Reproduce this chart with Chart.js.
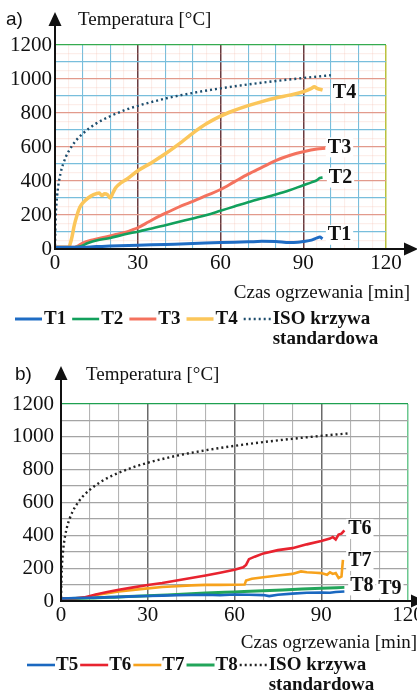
<!DOCTYPE html>
<html>
<head>
<meta charset="utf-8">
<script src="https://cdn.jsdelivr.net/npm/chart.js@4.4.1/dist/chart.umd.min.js"></script>
<style>
  html, body { margin: 0; padding: 0; background: #fff; }
  canvas { display: block; }
</style>
</head>
<body>
<canvas id="chartA" width="417" height="345"></canvas>
<canvas id="chartB" width="417" height="350"></canvas>
<script>
const SERIF = '"Liberation Serif", "Times New Roman", serif';
const SANS = '"Liberation Sans", Arial, sans-serif';

const X_LABELS = [0, 30, 60, 90, 120];
const Y_LABELS = [0, 200, 400, 600, 800, 1000, 1200];

// ISO standard curve, same in both panels [min, °C]
const ISO = [[0, 20], [0.25, 185], [0.5, 261], [1, 349], [2, 445], [3, 502], [4, 544], [5, 576], [7.5, 636],
  [10, 678], [15, 739], [20, 781], [25, 815], [30, 842], [40, 885], [50, 918], [60, 945], [70, 968],
  [80, 988], [90, 1006], [100, 1022]];

// panel a)
const T1 = [[0, 10], [8, 10], [15, 14], [20, 17], [30, 22], [40, 27], [50, 32], [60, 38], [70, 42], [75, 45],
  [80, 44], [85, 38], [88, 40], [90, 44], [93, 52], [95, 65], [96, 70], [97, 60]];
const T2 = [[0, 10], [7, 10], [9, 15], [12, 35], [15, 50], [20, 65], [25, 85], [30, 102], [35, 120], [40, 140],
  [45, 160], [50, 180], [55, 200], [60, 225], [65, 250], [70, 275], [75, 298], [80, 320], [85, 345],
  [90, 375], [93, 392], [95, 405], [96, 418], [97, 420]];
const T3 = [[0, 10], [7, 10], [8, 15], [10, 35], [14, 55], [18, 70], [22, 85], [26, 100], [28, 112], [30, 125],
  [34, 160], [38, 195], [42, 225], [46, 255], [50, 280], [55, 315], [60, 350], [65, 395], [70, 440],
  [75, 480], [80, 520], [85, 550], [90, 572], [95, 588], [98, 592]];
const T4 = [[0, 10], [3, 10], [5, 12], [6, 60], [7, 140], [8, 200], [9, 245], [10, 270], [12, 300], [14, 320],
  [16, 330], [17, 315], [18, 325], [19, 320], [20, 300], [21, 330], [22, 360], [24, 390], [26, 410],
  [30, 460], [35, 508], [40, 560], [45, 618], [50, 682], [55, 738], [60, 782], [65, 815], [70, 843],
  [75, 867], [80, 888], [85, 905], [90, 925], [93, 945], [94, 955], [95, 945], [97, 935]];

// panel b)
const T5 = [[0, 15], [5, 18], [10, 20], [15, 22], [20, 25], [25, 28], [30, 30], [35, 33], [40, 35], [45, 37],
  [50, 38], [55, 35], [60, 40], [65, 38], [70, 36], [72, 30], [75, 38], [80, 45], [85, 50], [90, 52],
  [93, 50], [95, 55], [98, 58]];
const T6 = [[0, 15], [5, 17], [8, 22], [12, 40], [16, 55], [20, 68], [25, 83], [30, 98], [35, 110], [40, 125],
  [45, 140], [50, 155], [55, 172], [60, 190], [63, 205], [64, 220], [65, 255], [67, 270], [70, 290],
  [75, 310], [80, 322], [85, 345], [90, 365], [93, 380], [94, 390], [95, 375], [96, 405], [97, 410], [98, 430]];
const T7 = [[11.5, 35], [15, 45], [20, 58], [25, 68], [30, 77], [35, 85], [40, 90], [45, 95], [50, 98], [55, 98],
  [60, 99], [63.5, 100], [64, 125], [66, 135], [70, 145], [75, 155], [80, 165], [83, 180], [85, 175],
  [88, 172], [90, 170], [92, 160], [93, 175], [94, 165], [95, 170], [96, 140], [97, 150], [97.5, 250]];
const T8 = [[0, 15], [10, 18], [20, 25], [30, 32], [40, 40], [50, 48], [60, 55], [70, 62], [80, 70], [90, 78], [98, 83]];

const pts = arr => arr.map(([x, y]) => ({ x, y }));

function line(label, data, color, width, extra) {
  return Object.assign({
    label, data: pts(data), borderColor: color, backgroundColor: color, borderWidth: width,
    pointRadius: 0, fill: false, cubicInterpolationMode: 'monotone'
  }, extra || {});
}

function drawArrows(ctx, area, yTip, xTip) {
  ctx.save();
  ctx.strokeStyle = '#111';
  ctx.fillStyle = '#111';
  ctx.lineWidth = 2;
  ctx.beginPath();
  ctx.moveTo(area.left, area.bottom + 1);
  ctx.lineTo(area.left, yTip + 10);
  ctx.moveTo(area.left - 1, area.bottom);
  ctx.lineTo(xTip - 10, area.bottom);
  ctx.stroke();
  ctx.beginPath();
  ctx.moveTo(area.left, yTip);
  ctx.lineTo(area.left - 6.5, yTip + 14);
  ctx.lineTo(area.left + 6.5, yTip + 14);
  ctx.closePath();
  ctx.fill();
  ctx.beginPath();
  ctx.moveTo(xTip, area.bottom);
  ctx.lineTo(xTip - 14, area.bottom - 6.5);
  ctx.lineTo(xTip - 14, area.bottom + 6.5);
  ctx.closePath();
  ctx.fill();
  ctx.restore();
}

function drawEndLabels(chart, specs) {
  const ctx = chart.ctx, xs = chart.scales.x, ys = chart.scales.y;
  ctx.save();
  ctx.font = 'bold 20px ' + SERIF;
  ctx.textBaseline = 'middle';
  specs.forEach(s => {
    const pts = chart.data.datasets[s.ds].data;
    const last = pts[pts.length - 1];
    const x = xs.getPixelForValue(100) + s.dx;
    const y = ys.getPixelForValue(last.y) + s.dy;
    const w = ctx.measureText(s.text).width;
    ctx.fillStyle = '#fff';
    ctx.fillRect(x - 2, y - 10, w + 4, 20);
    ctx.fillStyle = '#111';
    ctx.fillText(s.text, x, y);
  });
  ctx.restore();
}

function drawLegend(chart, items, x0, y, lineLen, gapIn, gapOut) {
  const ctx = chart.ctx;
  ctx.save();
  ctx.font = 'bold 19px ' + SERIF;
  ctx.textBaseline = 'middle';
  let x = x0;
  items.forEach(it => {
    const ds = chart.data.datasets[it.ds];
    ctx.strokeStyle = ds.borderColor;
    ctx.lineWidth = ds.borderWidth;
    ctx.setLineDash(ds.borderDash || []);
    ctx.beginPath();
    ctx.moveTo(x, y);
    ctx.lineTo(x + lineLen, y);
    ctx.stroke();
    ctx.setLineDash([]);
    x += lineLen + gapIn;
    ctx.fillStyle = '#111';
    ctx.fillText(it.text, x, y);
    if (it.second) ctx.fillText(it.second, x, y + 20);
    x += ctx.measureText(it.text).width + gapOut;
  });
  ctx.restore();
}

function drawTitles(chart, letter, letterX, titleX, cy, xTitleRight, xTitleY) {
  const ctx = chart.ctx;
  ctx.save();
  ctx.fillStyle = '#111';
  ctx.textBaseline = 'middle';
  ctx.font = '19px ' + SANS;
  ctx.fillText(letter, letterX, cy);
  ctx.font = '19px ' + SERIF;
  ctx.fillText('Temperatura [°C]', titleX, cy);
  ctx.textAlign = 'right';
  ctx.fillText('Czas ogrzewania [min]', xTitleRight, xTitleY);
  ctx.restore();
}

function scales(xStep, yStep, xColor, yColor, yWidth, tickPadY) {
  return {
    x: {
      type: 'linear', min: 0, max: 120,
      afterFit: s => { s.height = 30; s.paddingLeft = 0; s.paddingRight = 0; },
      ticks: {
        stepSize: xStep, autoSkip: false, maxRotation: 0, padding: 2, color: '#111',
        font: { family: SERIF, size: 21 },
        callback: v => X_LABELS.includes(v) ? String(v) : ''
      },
      grid: { drawTicks: false, lineWidth: c => (c.tick && c.tick.value % 30 === 0 ? 1.5 : 1.1), color: c => xColor(c.tick.value) },
      border: { display: false }
    },
    y: {
      type: 'linear', min: 0, max: 1200,
      afterFit: s => { s.width = yWidth; s.paddingTop = 0; s.paddingBottom = 0; },
      ticks: {
        stepSize: yStep, autoSkip: false, padding: tickPadY, color: '#111',
        font: { family: SERIF, size: 21 },
        callback: v => Y_LABELS.includes(v) ? String(v) : ''
      },
      grid: { drawTicks: false, lineWidth: 1.2, color: c => yColor(c.tick.value) },
      border: { display: false }
    }
  };
}

// ---------- panel a ----------
new Chart(document.getElementById('chartA'), {
  type: 'line',
  data: {
    datasets: [
      line('T1', T1, '#1f6cc4', 3),
      line('T2', T2, '#12a05c', 2.6),
      line('T3', T3, '#f4725e', 3),
      line('T4', T4, '#fbc65a', 3.5),
      line('ISO krzywa standardowa', ISO, '#1d4d6d', 2.4, { borderDash: [2, 3] })
    ]
  },
  options: {
    responsive: false, animation: false,
    layout: { padding: { top: 45, right: 31, bottom: 66, left: 0 } },
    plugins: { legend: { display: false }, tooltip: { enabled: false } },
    scales: scales(5, 50,
      v => v === 0 ? 'rgba(0,0,0,0)' : v === 120 ? '#b9c23c' : v % 30 === 0 ? '#6a3c40' : v % 10 === 0 ? '#78bedc' : 'rgba(240,170,150,0.2)',
      v => v === 0 ? 'rgba(0,0,0,0)' : v === 1200 ? '#35ab4f' : v % 200 === 0 ? '#e29a8c' : v % 100 === 0 ? '#78bedc' : 'rgba(240,170,150,0.2)',
      55, 3)
  },
  plugins: [{
    id: 'decoA',
    afterDraw(chart) {
      const a = chart.chartArea;
      drawEndLabels(chart, [
        { ds: 3, text: 'T4', dx: 2, dy: 3 },
        { ds: 2, text: 'T3', dx: -3, dy: -1 },
        { ds: 1, text: 'T2', dx: -2, dy: 0 },
        { ds: 0, text: 'T1', dx: -3, dy: -4 }
      ]);
      drawArrows(chart.ctx, a, 12, 418);
      drawTitles(chart, 'a)', 6, 78, 20, 410, 293);
      drawLegend(chart, [
        { ds: 0, text: 'T1' }, { ds: 1, text: 'T2' }, { ds: 2, text: 'T3' }, { ds: 3, text: 'T4' },
        { ds: 4, text: 'ISO krzywa', second: 'standardowa' }
      ], 15, 319, 27, 2, 6);
    }
  }]
});

// ---------- panel b ----------
new Chart(document.getElementById('chartB'), {
  type: 'line',
  data: {
    datasets: [
      line('T5', T5, '#1a68c0', 2.6, { cubicInterpolationMode: 'default', tension: 0 }),
      line('T6', T6, '#e8232f', 2.6, { cubicInterpolationMode: 'default', tension: 0 }),
      line('T7', T7, '#f7a21c', 2.6, { cubicInterpolationMode: 'default', tension: 0 }),
      line('T8', T8, '#22a55a', 3),
      line('ISO krzywa standardowa', ISO, '#222', 2.4, { borderDash: [2, 3] })
    ]
  },
  options: {
    responsive: false, animation: false,
    layout: { padding: { top: 59, right: 9, bottom: 64, left: 0 } },
    plugins: { legend: { display: false }, tooltip: { enabled: false } },
    scales: scales(10, 100,
      v => v === 0 ? 'rgba(0,0,0,0)' : v === 120 ? '#6cc890' : v % 30 === 0 ? '#6a6a6a' : '#b4b4b4',
      v => v === 0 ? 'rgba(0,0,0,0)' : v === 1200 ? '#1ea050' : '#a4a4a4',
      61, 7)
  },
  plugins: [{
    id: 'decoB',
    afterDraw(chart) {
      const a = chart.chartArea;
      drawEndLabels(chart, [
        { ds: 1, text: 'T6', dx: -2, dy: -1.5 },
        { ds: 2, text: 'T7', dx: -2, dy: 1 },
        { ds: 3, text: 'T8', dx: 0, dy: -2 },
        { ds: 3, text: 'T9', dx: 28, dy: 1 }
      ]);
      drawArrows(chart.ctx, a, 21, 425);
      drawTitles(chart, 'b)', 15, 86, 30, 417, 298);
      drawLegend(chart, [
        { ds: 0, text: 'T5' }, { ds: 1, text: 'T6' }, { ds: 2, text: 'T7' }, { ds: 3, text: 'T8' },
        { ds: 4, text: 'ISO krzywa', second: 'standardowa' }
      ], 27, 320, 28, 1, 2);
    }
  }]
});
</script>
</body>
</html>
